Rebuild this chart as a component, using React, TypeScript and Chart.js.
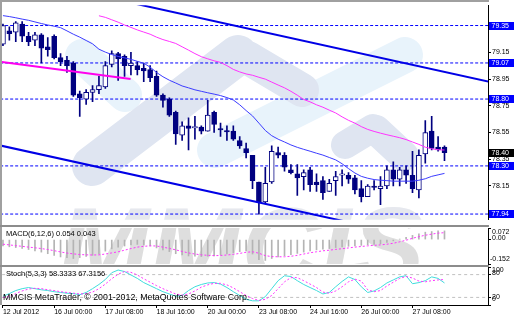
import React, { useEffect, useRef } from 'react';
import { Chart, registerables } from 'chart.js';
Chart.register(...registerables);

// ---------- data ----------
const timeLabels = ['12 Jul 2012', '16 Jul 00:00', '17 Jul 08:00', '18 Jul 16:00', '20 Jul 00:00', '23 Jul 08:00', '24 Jul 16:00', '26 Jul 00:00', '27 Jul 08:00'];
const barsPerLabel = 8; // H4 candles between two time labels

const opens = [79.21, 79.31, 79.30, 79.36, 79.27, 79.24, 79.28, 79.19, 79.27, 79.11,
  79.09, 79.07, 78.84, 78.80, 78.85, 78.87, 78.89, 79.06, 79.14, 79.12,
  79.05, 79.05, 79.03, 79.02, 78.97, 78.83, 78.80, 78.70, 78.53, 78.60,
  78.585, 78.59, 78.56, 78.70, 78.58, 78.565, 78.56, 78.49, 78.43, 78.38,
  78.18, 78.03, 78.18, 78.40, 78.38, 78.27, 78.24, 78.22, 78.27, 78.18,
  78.19, 78.11, 78.19, 78.23, 78.23, 78.21, 78.13, 78.07, 78.15, 78.13,
  78.15, 78.27, 78.20, 78.27, 78.23, 78.12, 78.39, 78.56, 78.44, 78.44];
const highs = [79.36, 79.34, 79.38, 79.38, 79.30, 79.30, 79.29, 79.26, 79.28, 79.14,
  79.12, 79.08, 78.86, 78.87, 78.90, 78.97, 79.08, 79.16, 79.15, 79.13,
  79.15, 79.08, 79.07, 79.05, 79.01, 78.84, 78.81, 78.71, 78.63, 78.66,
  78.67, 78.60, 78.79, 78.71, 78.62, 78.60, 78.60, 78.52, 78.47, 78.38,
  78.18, 78.29, 78.45, 78.44, 78.40, 78.31, 78.31, 78.27, 78.29, 78.24,
  78.22, 78.20, 78.26, 78.27, 78.25, 78.23, 78.19, 78.16, 78.19, 78.22,
  78.30, 78.33, 78.29, 78.30, 78.41, 78.42, 78.64, 78.67, 78.52, 78.45];
const lows = [79.20, 79.24, 79.23, 79.23, 79.20, 79.20, 79.07, 79.12, 79.10, 79.05,
  79.00, 78.82, 78.67, 78.76, 78.78, 78.84, 78.88, 79.04, 78.94, 78.97,
  78.98, 78.98, 78.93, 78.93, 78.82, 78.74, 78.67, 78.46, 78.49, 78.42,
  78.50, 78.54, 78.56, 78.55, 78.52, 78.49, 78.49, 78.43, 78.36, 78.13,
  77.94, 78.02, 78.17, 78.36, 78.26, 78.24, 78.08, 78.12, 78.11, 78.11,
  78.05, 78.11, 78.08, 78.15, 78.17, 78.09, 78.03, 78.07, 78.12, 78.01,
  78.13, 78.15, 78.15, 78.17, 78.10, 78.06, 78.32, 78.42, 78.41, 78.34];
const closes = [79.35, 79.29, 79.37, 79.27, 79.23, 79.28, 79.18, 79.17, 79.11, 79.08,
  79.05, 78.83, 78.81, 78.85, 78.87, 78.90, 79.05, 79.14, 79.10, 79.05,
  79.07, 79.02, 79.01, 78.96, 78.83, 78.79, 78.68, 78.54, 78.60, 78.58,
  78.595, 78.56, 78.68, 78.61, 78.57, 78.555, 78.50, 78.45, 78.40, 78.19,
  78.03, 78.17, 78.41, 78.38, 78.29, 78.25, 78.21, 78.25, 78.16, 78.16,
  78.10, 78.17, 78.22, 78.24, 78.20, 78.12, 78.07, 78.15, 78.14, 78.15,
  78.27, 78.20, 78.27, 78.23, 78.13, 78.38, 78.55, 78.43, 78.42, 78.40];

const maFast = [79.424, 79.417, 79.408, 79.398, 79.389, 79.377, 79.365, 79.354, 79.345, 79.334,
  79.310, 79.285, 79.263, 79.238, 79.213, 79.173, 79.151, 79.133, 79.119, 79.108,
  79.097, 79.082, 79.068, 79.039, 78.999, 78.967, 78.941, 78.920, 78.898, 78.884,
  78.869, 78.858, 78.847, 78.837, 78.826, 78.811, 78.793, 78.757, 78.714, 78.674,
  78.620, 78.565, 78.526, 78.500, 78.479, 78.457, 78.439, 78.424, 78.410, 78.395,
  78.381, 78.363, 78.345, 78.316, 78.280, 78.247, 78.222, 78.208, 78.198, 78.193,
  78.190, 78.186, 78.186, 78.186, 78.186, 78.193, 78.204, 78.222, 78.233, 78.244];
const maSlowStart = 15;
const maSlow = [79.423, 79.411, 79.393, 79.375, 79.354, 79.336, 79.317, 79.301, 79.285, 79.263,
  79.245, 79.231, 79.216, 79.191, 79.166, 79.140, 79.117, 79.101, 79.086, 79.074,
  79.050, 79.022, 79.003, 78.988, 78.978, 78.963, 78.949, 78.927, 78.905, 78.884,
  78.858, 78.829, 78.797, 78.779, 78.757, 78.739, 78.717, 78.696, 78.667, 78.641,
  78.620, 78.594, 78.573, 78.558, 78.545, 78.533, 78.522, 78.511, 78.497, 78.479,
  78.461, 78.440, 78.428, 78.421, 78.419];

const levels = [79.35, 79.07, 78.80, 78.30, 77.94];
const lastPrice = 78.40;
const priceTicks = [79.15, 78.95, 78.75, 78.55, 78.35, 78.15];
const upperChannel = [{ x: 15, y: 79.573 }, { x: 80, y: 78.887 }];
const lowerChannel = [{ x: -1, y: 78.459 }, { x: 80, y: 77.605 }];
const pinkTrend = [{ x: -1, y: 79.083 }, { x: 19.95, y: 78.950 }];

const macdMain = [-0.040, -0.045, -0.050, -0.055, -0.062, -0.070, -0.078, -0.088, -0.098, -0.108,
  -0.112, -0.118, -0.112, -0.105, -0.098, -0.088, -0.072, -0.058, -0.048, -0.040,
  -0.034, -0.030, -0.034, -0.040, -0.052, -0.064, -0.075, -0.088, -0.096, -0.102,
  -0.104, -0.106, -0.104, -0.102, -0.096, -0.090, -0.082, -0.075, -0.070, -0.090,
  -0.125, -0.130, -0.118, -0.108, -0.100, -0.094, -0.086, -0.078, -0.070, -0.064,
  -0.060, -0.056, -0.050, -0.046, -0.042, -0.040, -0.036, -0.032, -0.030, -0.026,
  -0.018, -0.008, 0.002, 0.014, 0.026, 0.036, 0.046, 0.050, 0.054, 0.054];
const macdSignal = [-0.029, -0.033, -0.038, -0.042, -0.047, -0.051, -0.056, -0.062, -0.069, -0.077,
  -0.084, -0.089, -0.093, -0.095, -0.096, -0.095, -0.090, -0.083, -0.076, -0.066,
  -0.056, -0.047, -0.042, -0.039, -0.040, -0.047, -0.055, -0.064, -0.074, -0.083,
  -0.090, -0.095, -0.098, -0.100, -0.099, -0.096, -0.092, -0.086, -0.079, -0.076,
  -0.085, -0.100, -0.106, -0.107, -0.107, -0.104, -0.098, -0.090, -0.082, -0.076,
  -0.070, -0.066, -0.061, -0.057, -0.052, -0.047, -0.043, -0.039, -0.036, -0.033,
  -0.029, -0.023, -0.014, -0.004, 0.008, 0.018, 0.027, 0.034, 0.040, 0.043];
const macdRange = [-0.152, 0.072];

const stochMain = [23, 30, 38, 43, 46, 43, 40, 38, 35, 33,
  31, 30, 27, 33, 43, 54, 67, 85, 92, 88,
  79, 70, 59, 51, 43, 35, 29, 23, 25, 38,
  48, 54, 58, 59, 55, 46, 35, 25, 15, 11,
  11, 22, 43, 64, 77, 75, 64, 54, 46, 38,
  29, 33, 48, 62, 74, 67, 48, 33, 37, 46,
  58, 66, 74, 77, 56, 59, 64, 74, 70, 58];
const stochSignal = [20, 22, 30, 37, 42, 44, 43, 40, 38, 35,
  33, 31, 29, 30, 34, 43, 55, 69, 81, 88,
  86, 79, 69, 60, 51, 43, 36, 29, 26, 29,
  37, 47, 53, 57, 57, 53, 45, 35, 25, 17,
  12, 15, 25, 43, 61, 72, 72, 64, 55, 46,
  34, 31, 37, 48, 61, 68, 63, 40, 35, 38,
  50, 60, 70, 75, 71, 63, 61, 64, 66, 67];
const stochLevels = [80, 20];

const macdTitle = 'MACD(6,12,6) 0.054 0.043';
const stochTitle = 'Stoch(5,3,3) 58.3333 67.3156';
const copyright = 'MMCIS MetaTrader, © 2001-2012, MetaQuotes Software Corp.';
const watermark = 'MMCIS';

// ---------- style / layout ----------
const FONT = '"Liberation Sans", Arial, sans-serif';
const NAVY = '#000080';
const LEVEL_BLUE = '#0000ff';
const X_MIN = -0.15;
const X_MAX = 75.8;
const AXIS_W = 32;

const frameRects: [number, number, number, number, string][] = [
  [0, 0, 489, 2, '#a0a0a0'],
  [0, 0, 2, 305, '#a0a0a0'],
  [0, 225, 489, 2, '#8c8c8c'],
  [0, 265, 489, 2, '#8c8c8c'],
];

// faint background logo strokes (page pixels): x1, y1, x2, y2, width, colour
const logoStrokes: [number, number, number, number, number, string][] = [
  [82, 56, 125, 95, 34, '#e8f3fb'],
  [215, 150, 405, 55, 36, '#e8f3fb'],
  [92, 166, 238, 55, 40, '#dfe5f1'],
  [248, 58, 302, 90, 34, '#dfe5f1'],
  [345, 145, 373, 128, 28, '#dfe5f1'],
  [376, 130, 404, 156, 30, '#dfe5f1'],
];

const xy = (arr: number[], start = 0) => arr.map((v, k) => ({ x: k + start, y: v }));
const hline = (v: number) => [{ x: -2, y: v }, { x: 80, y: v }];

function decor(pageTop: number, withWatermark: boolean, withLogo: boolean, after?: (ctx: CanvasRenderingContext2D, chart: any) => void) {
  return {
    id: 'decor',
    beforeDatasetsDraw(chart: any) {
      if (!withWatermark && !withLogo) return;
      const { ctx, chartArea: a } = chart;
      ctx.save();
      ctx.beginPath();
      ctx.rect(a.left, a.top, a.right - a.left, a.bottom - a.top);
      ctx.clip();
      ctx.translate(0, -pageTop);
      if (withLogo) {
        ctx.lineCap = 'round';
        logoStrokes.forEach(([x1, y1, x2, y2, w, c]) => {
          ctx.strokeStyle = c;
          ctx.lineWidth = w;
          ctx.beginPath();
          ctx.moveTo(x1, y1);
          ctx.lineTo(x2, y2);
          ctx.stroke();
        });
      }
      if (withWatermark) {
        ctx.font = `italic bold 110px ${FONT}`;
        ctx.fillStyle = pageTop === 0 ? '#e6e8ee' : '#dedede';
        ctx.textBaseline = 'alphabetic';
        ctx.fillText(watermark, 58, 284);
      }
      ctx.restore();
    },
    afterDraw(chart: any) {
      const ctx = chart.ctx as CanvasRenderingContext2D;
      ctx.save();
      ctx.translate(0, -pageTop);
      frameRects.forEach(([x, y, w, h, c]) => {
        ctx.fillStyle = c;
        ctx.fillRect(x, y, w, h);
      });
      ctx.restore();
      if (after) {
        ctx.save();
        after(ctx, chart);
        ctx.restore();
      }
    },
  };
}

const yAxisBase = {
  type: 'linear' as const,
  position: 'right' as const,
  afterFit: (s: any) => { s.width = AXIS_W; },
  grid: { drawOnChartArea: false, drawTicks: true, tickLength: 3, color: '#000' },
  border: { display: true, color: '#000' },
};

const baseOptions = (padding: any) => ({
  animation: false as const,
  responsive: false,
  maintainAspectRatio: false,
  events: [] as any[],
  layout: { padding },
  plugins: { legend: { display: false }, tooltip: { enabled: false } },
});

export default function App() {
  const mainRef = useRef<HTMLCanvasElement>(null);
  const macdRef = useRef<HTMLCanvasElement>(null);
  const stochRef = useRef<HTMLCanvasElement>(null);

  useEffect(() => {
    Chart.defaults.font.family = FONT;
    const idx = opens.map((_, i) => i);

    const main = new Chart(mainRef.current!, {
      type: 'bar',
      data: {
        datasets: [
          ...levels.map((v) => ({
            type: 'line' as const, data: hline(v), borderColor: LEVEL_BLUE, borderWidth: 1,
            borderDash: [3, 2], pointRadius: 0, order: 10, clip: 0,
          })),
          {
            type: 'bar' as const, data: idx.map((i) => ({ x: i, y: [lows[i], highs[i]] })),
            backgroundColor: NAVY, barThickness: 1, grouped: false, order: 8, clip: 0,
          },
          {
            type: 'bar' as const, data: idx.map((i) => ({ x: i, y: [opens[i], closes[i]] })),
            backgroundColor: idx.map((i) => (closes[i] >= opens[i] ? '#ffffff' : NAVY)),
            borderColor: NAVY, borderWidth: 1, borderSkipped: false, barThickness: 5,
            grouped: false, order: 7, clip: 0,
          },
          { type: 'line' as const, data: xy(maFast), borderColor: '#3c3cff', borderWidth: 1, pointRadius: 0, order: 3, clip: 0 },
          { type: 'line' as const, data: xy(maSlow, maSlowStart), borderColor: '#ff33ff', borderWidth: 1, pointRadius: 0, order: 3, clip: 0 },
          { type: 'line' as const, data: pinkTrend, borderColor: '#ff00ee', borderWidth: 2, pointRadius: 0, order: 2, clip: 0 },
          { type: 'line' as const, data: upperChannel, borderColor: '#0000e6', borderWidth: 2, pointRadius: 0, order: 2, clip: 0 },
          { type: 'line' as const, data: lowerChannel, borderColor: '#0000e6', borderWidth: 2, pointRadius: 0, order: 2, clip: 0 },
        ] as any,
      },
      options: {
        ...baseOptions({ left: 2, top: 2, bottom: 1, right: 0 }),
        scales: {
          x: { type: 'linear', min: X_MIN, max: X_MAX, display: false, offset: false, grid: { offset: false } },
          y: {
            ...yAxisBase, min: 77.897, max: 79.502,
            afterBuildTicks: (s: any) => { s.ticks = priceTicks.map((v) => ({ value: v })); },
            ticks: { font: { size: 7, family: FONT }, color: '#000', padding: 1, callback: (v: any) => Number(v).toFixed(2) },
          },
        },
      } as any,
      plugins: [decor(0, true, true, (ctx, chart) => {
        const sy = chart.scales.y;
        ctx.font = `7px ${FONT}`;
        ctx.textBaseline = 'middle';
        const box = (v: number, bg: string) => {
          const y = Math.round(sy.getPixelForValue(v));
          ctx.fillStyle = bg;
          ctx.fillRect(489, y - 4, 25, 8);
          ctx.fillStyle = '#fff';
          ctx.fillText(v.toFixed(2), 491.5, y + 0.5);
        };
        levels.forEach((v) => box(v, LEVEL_BLUE));
        box(lastPrice, '#000');
      })],
    });

    const macd = new Chart(macdRef.current!, {
      type: 'bar',
      data: {
        datasets: [
          { type: 'bar' as const, data: xy(macdMain), backgroundColor: '#b4b4b4', barThickness: 1, grouped: false, order: 5, clip: 0 },
          { type: 'line' as const, data: xy(macdSignal), borderColor: '#ff33ff', borderWidth: 1, borderDash: [2, 2], pointRadius: 0, order: 1, clip: 0 },
        ] as any,
      },
      options: {
        ...baseOptions({ left: 2, top: 3, bottom: 2, right: 0 }),
        scales: {
          x: { type: 'linear', min: X_MIN, max: X_MAX, display: false, offset: false, grid: { offset: false } },
          y: {
            ...yAxisBase, min: macdRange[0], max: macdRange[1],
            afterBuildTicks: (s: any) => { s.ticks = [macdRange[1], 0, macdRange[0]].map((v) => ({ value: v })); },
            ticks: { display: false },
          },
        },
      } as any,
      plugins: [decor(225, true, false, (ctx) => {
        ctx.fillStyle = '#000';
        ctx.textBaseline = 'middle';
        ctx.font = `7.5px ${FONT}`;
        ctx.fillText(macdTitle, 6, 9);
        ctx.font = `7px ${FONT}`;
        ctx.fillText(macdRange[1].toFixed(3), 492, 7.5);
        ctx.fillText('0.00', 492, 13.5);
        ctx.fillText(macdRange[0].toFixed(3), 490, 34.5);
      })],
    });

    const stoch = new Chart(stochRef.current!, {
      type: 'line',
      data: {
        datasets: [
          ...stochLevels.map((v) => ({
            type: 'line' as const, data: hline(v), borderColor: '#c0c0c0', borderWidth: 1,
            borderDash: [3, 3], pointRadius: 0, order: 10, clip: 0,
          })),
          { type: 'line' as const, data: xy(stochMain), borderColor: '#40dcdc', borderWidth: 1, pointRadius: 0, order: 2, clip: 0 },
          { type: 'line' as const, data: xy(stochSignal), borderColor: '#ff33ff', borderWidth: 1, borderDash: [2, 2], pointRadius: 0, order: 1, clip: 0 },
        ] as any,
      },
      options: {
        ...baseOptions({ left: 2, top: 1, bottom: 0, right: 0 }),
        scales: {
          x: {
            type: 'linear', position: 'bottom', min: X_MIN, max: X_MAX, offset: false,
            afterFit: (s: any) => { s.height = 15; },
            afterBuildTicks: (s: any) => { s.ticks = timeLabels.map((_, k) => ({ value: k * barsPerLabel })); },
            grid: { drawOnChartArea: false, drawTicks: true, tickLength: 3, color: '#000', offset: false },
            border: { display: true, color: '#000' },
            ticks: {
              autoSkip: false, maxRotation: 0, minRotation: 0, align: 'start', padding: 0,
              font: { size: 7, family: FONT }, color: '#000',
              callback: (_v: any, i: number) => timeLabels[i],
            },
          },
          y: {
            ...yAxisBase, min: 0, max: 100,
            afterBuildTicks: (s: any) => { s.ticks = [100, 80, 20, 0].map((v) => ({ value: v })); },
            ticks: { display: false },
          },
        },
      } as any,
      plugins: [decor(266, false, false, (ctx) => {
        ctx.fillStyle = '#000';
        ctx.textBaseline = 'middle';
        ctx.font = `7.5px ${FONT}`;
        ctx.fillText(stochTitle, 6, 8);
        ctx.font = `7px ${FONT}`;
        ctx.fillText('100', 492, 4.5);
        ctx.fillText('80', 492, 7);
        ctx.fillText('20', 492, 31.5);
        ctx.fillText('0', 492, 33.5);
        ctx.font = `8.8px ${FONT}`;
        ctx.fillText(copyright, 3, 31.5);
      })],
    });

    return () => { main.destroy(); macd.destroy(); stoch.destroy(); };
  }, []);

  return (
    <div style={{ position: 'fixed', left: 0, top: 0, width: 520, height: 320, background: '#fff', overflow: 'hidden' }}>
      <canvas ref={mainRef} width={520} height={225} style={{ position: 'absolute', left: 0, top: 0, width: 520, height: 225 }} />
      <canvas ref={macdRef} width={520} height={41} style={{ position: 'absolute', left: 0, top: 225, width: 520, height: 41 }} />
      <canvas ref={stochRef} width={520} height={54} style={{ position: 'absolute', left: 0, top: 266, width: 520, height: 54 }} />
    </div>
  );
}
